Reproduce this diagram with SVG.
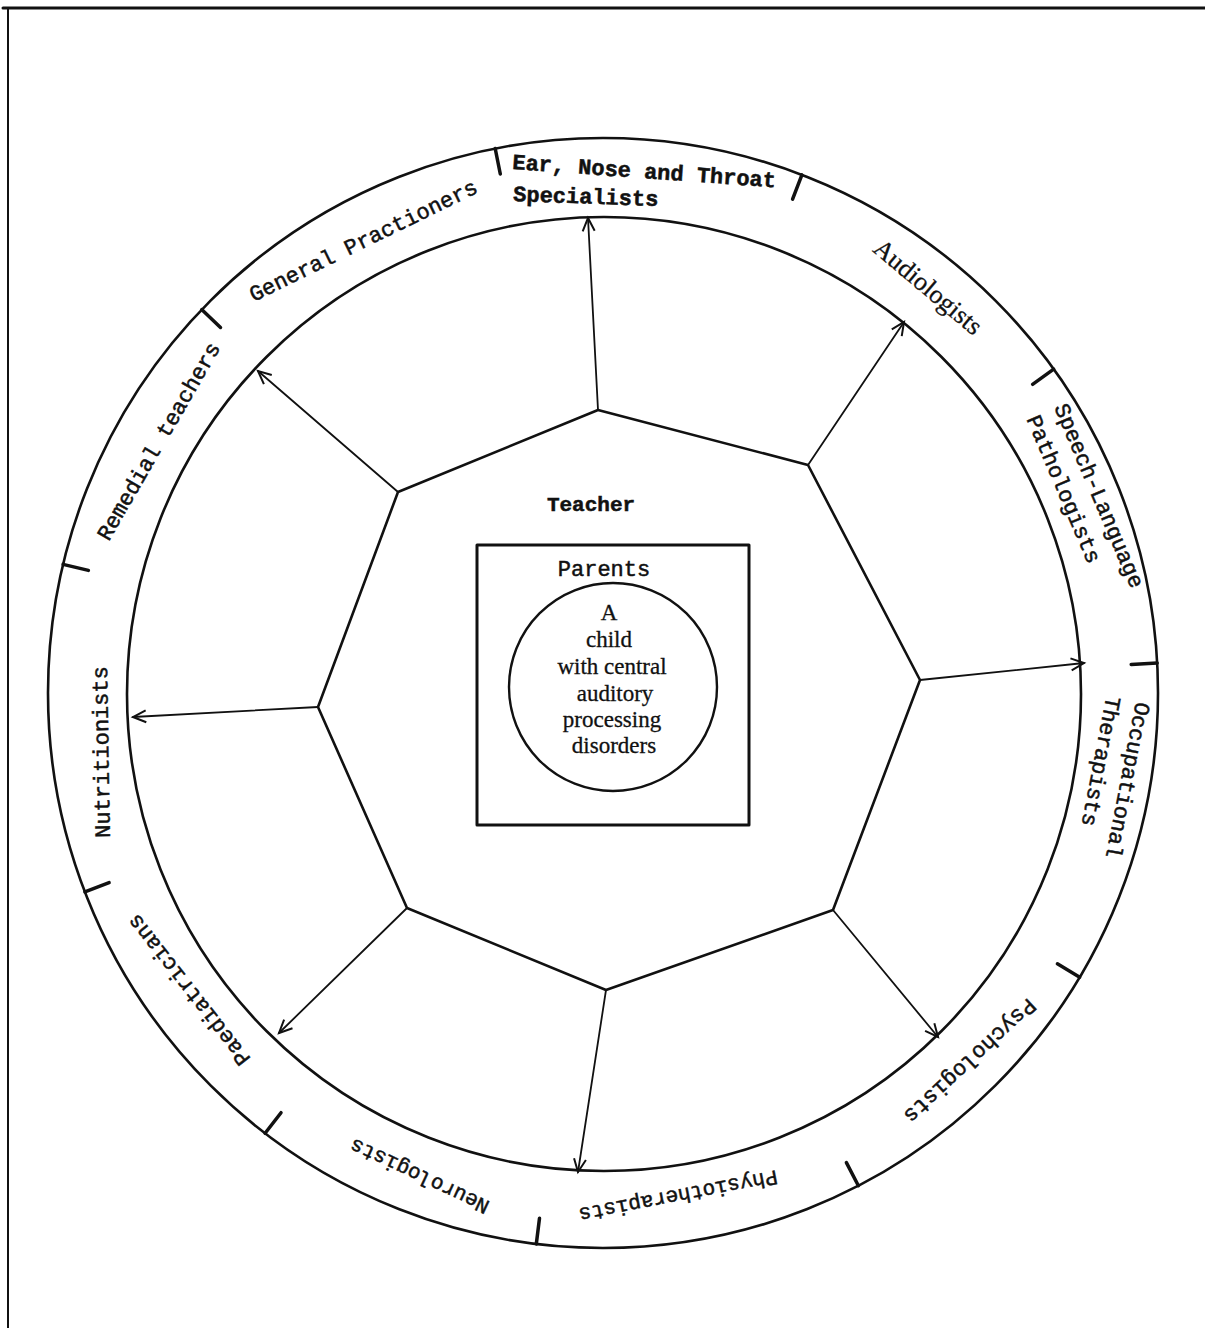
<svg xmlns="http://www.w3.org/2000/svg" width="1205" height="1328" viewBox="0 0 1205 1328">
<style>
.ln{fill:none;stroke:#111;stroke-linecap:round;stroke-linejoin:round}
.ring{stroke-width:2.6}
.tick{stroke-width:3.5}
.edge{stroke-width:2.6}
.arr{stroke-width:1.8}
.mono{font-family:"Liberation Mono","Courier New",monospace;fill:#111;stroke:#111;stroke-width:0.5}
.serif{font-family:"Liberation Serif","Times New Roman",serif;fill:#111;stroke:#111;stroke-width:0.3}
.lbl{font-size:22px}
</style>
<defs>
<marker id="ah" markerUnits="userSpaceOnUse" markerWidth="30" markerHeight="30" viewBox="-15 -15 30 30" refX="0" refY="0" orient="auto">
<path d="M -13 -6 L 0 0 L -13 6" fill="none" stroke="#111" stroke-width="2"/>
</marker>
</defs>
<rect width="1205" height="1328" fill="#fff"/>
<g id="frame" class="ln">
<line x1="3" y1="8" x2="1205" y2="8" stroke-width="3"/>
<line x1="8" y1="8" x2="8" y2="1328" stroke-width="2"/>
</g>
<g id="ring" class="ln">
<circle class="ring" cx="603" cy="693" r="555"/>
<circle class="ring" cx="604" cy="694" r="477"/>
<g class="tick">
<line x1="495.2" y1="148.5" x2="500.3" y2="174.0"/>
<line x1="801.9" y1="174.9" x2="792.6" y2="199.1"/>
<line x1="1053.7" y1="369.2" x2="1032.6" y2="384.3"/>
<line x1="1157.2" y1="663.0" x2="1131.2" y2="664.4"/>
<line x1="1079.7" y1="977.2" x2="1057.4" y2="963.8"/>
<line x1="858.4" y1="1185.7" x2="846.4" y2="1162.6"/>
<line x1="536.3" y1="1244.0" x2="539.5" y2="1218.2"/>
<line x1="265.1" y1="1133.3" x2="281.0" y2="1112.7"/>
<line x1="84.9" y1="891.9" x2="109.1" y2="882.6"/>
<line x1="63.1" y1="564.4" x2="88.4" y2="570.4"/>
<line x1="201.7" y1="309.6" x2="220.5" y2="327.5"/>
</g>
</g>
<g id="node-ent">
<text class="mono lbl" font-weight="bold" x="512" y="169" transform="rotate(4 512 169)">Ear, Nose and Throat</text>
<text class="mono lbl" font-weight="bold" x="513" y="201" transform="rotate(2 513 201)">Specialists</text>
</g>
<g id="node-audiologists">
<text class="serif" font-size="26" text-anchor="middle" dominant-baseline="central" transform="translate(928 287) rotate(40)">Audiologists</text>
</g>
<g id="node-speech" transform="translate(1080 493) rotate(67)">
<text class="mono lbl" x="-89" y="-15" dominant-baseline="central">Speech-Language</text>
<text class="mono lbl" x="-89" y="15" dominant-baseline="central">Pathologists</text>
</g>
<g id="node-occupational" transform="translate(1113 770) rotate(101)">
<text class="mono lbl" x="-72" y="-15" dominant-baseline="central">Occupational</text>
<text class="mono lbl" x="-72" y="15" dominant-baseline="central">Therapists</text>
</g>
<g id="node-psychologists">
<text class="mono lbl" text-anchor="middle" dominant-baseline="central" transform="translate(969 1060) rotate(137)">Psychologists</text>
</g>
<g id="node-physiotherapists">
<text class="mono" font-size="21" text-anchor="middle" dominant-baseline="central" transform="translate(678 1195) rotate(169)">Physiotherapists</text>
</g>
<g id="node-neurologists">
<text class="mono" font-size="21" text-anchor="middle" dominant-baseline="central" transform="translate(420 1175) rotate(205)">Neurologists</text>
</g>
<g id="node-paediatricians">
<text class="mono lbl" text-anchor="middle" dominant-baseline="central" transform="translate(190 989) rotate(232)">Paediatricians</text>
</g>
<g id="node-nutritionists">
<text class="mono lbl" text-anchor="middle" dominant-baseline="central" transform="translate(103 752) rotate(269)">Nutritionists</text>
</g>
<g id="node-remedial">
<text class="mono lbl" text-anchor="middle" dominant-baseline="central" transform="translate(160 442) rotate(300)">Remedial teachers</text>
</g>
<g id="node-gp">
<text class="mono lbl" text-anchor="middle" dominant-baseline="central" transform="translate(364 242) rotate(334)">General Practioners</text>
</g>
<g id="node-teacher">
<polygon class="ln edge" points="598,410 808,465 920,680 833,910 606,990 407,908 318,707 398,492"/>
<text class="mono" font-size="21" font-weight="bold" x="591" y="511" text-anchor="middle">Teacher</text>
</g>
<g id="node-parents">
<rect class="ln" x="477" y="545" width="272" height="280" stroke-width="3"/>
<text class="mono" font-size="22" x="604" y="576" text-anchor="middle">Parents</text>
</g>
<g id="node-child">
<circle class="ln" cx="613" cy="687" r="104" stroke-width="2.4"/>
<g class="serif" font-size="23" text-anchor="middle">
<text x="609" y="620">A</text>
<text x="609" y="647">child</text>
<text x="612" y="674">with central</text>
<text x="615" y="701">auditory</text>
<text x="612" y="727">processing</text>
<text x="614" y="753">disorders</text>
</g>
</g>
<g id="connectors" class="ln arr">
<line x1="598" y1="410" x2="588" y2="218" marker-end="url(#ah)"/>
<line x1="808" y1="465" x2="904" y2="322" marker-end="url(#ah)"/>
<line x1="920" y1="680" x2="1084" y2="663" marker-end="url(#ah)"/>
<line x1="833" y1="910" x2="938" y2="1037" marker-end="url(#ah)"/>
<line x1="606" y1="990" x2="578" y2="1172" marker-end="url(#ah)"/>
<line x1="407" y1="908" x2="279" y2="1033" marker-end="url(#ah)"/>
<line x1="318" y1="707" x2="133" y2="717" marker-end="url(#ah)"/>
<line x1="398" y1="492" x2="258" y2="371" marker-end="url(#ah)"/>
</g>
</svg>
